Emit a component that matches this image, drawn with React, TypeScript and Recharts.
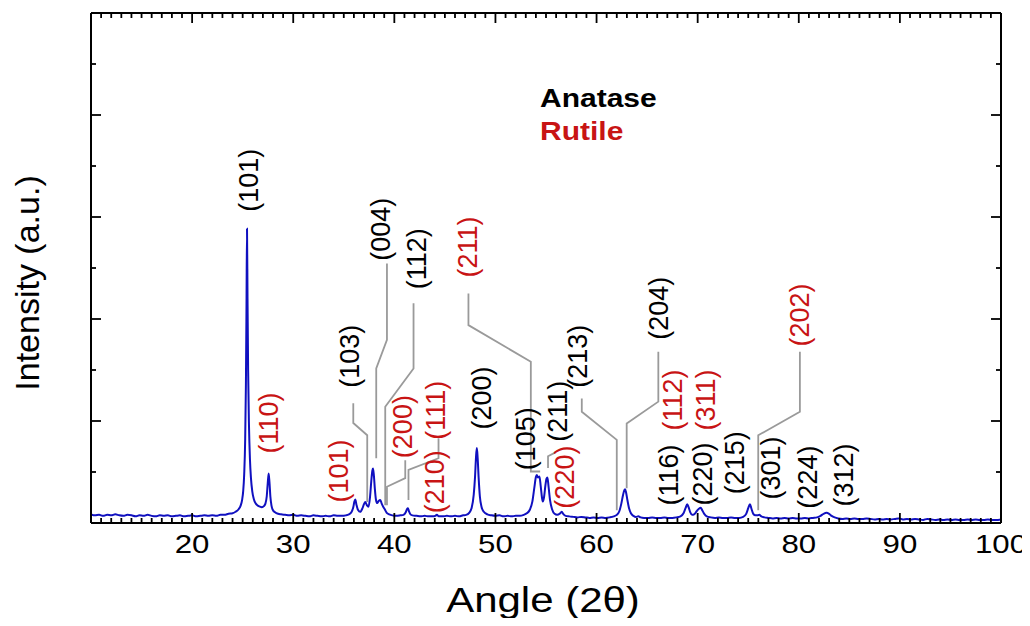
import React from 'react';
import { ComposedChart, Line, Scatter, XAxis, YAxis, Legend } from 'recharts';

const FONT = '"Liberation Sans", Arial, Helvetica, sans-serif';
const BLUE = '#1010c0';
const RED = '#c81414';
const GREY = '#9a9a9a';

// 2θ (deg) vs intensity (axis units 0-10)
const scan: [number, number][] = [
  [10.0, 0.17], [10.4, 0.15], [10.8, 0.16], [11.2, 0.14], [11.6, 0.16], [12.0, 0.15], [12.4, 0.17], [12.8, 0.15],
  [13.2, 0.14], [13.6, 0.16], [14.0, 0.15], [14.4, 0.13], [14.8, 0.15], [15.2, 0.14], [15.6, 0.16], [16.0, 0.14],
  [16.4, 0.13], [16.8, 0.15], [17.2, 0.14], [17.6, 0.15], [18.0, 0.13], [18.4, 0.14], [18.8, 0.15], [19.2, 0.13],
  [19.6, 0.14], [20.0, 0.15], [20.4, 0.13], [20.8, 0.14], [21.2, 0.15], [21.6, 0.14], [22.0, 0.15], [22.4, 0.14],
  [22.8, 0.16], [23.2, 0.16], [23.6, 0.18], [24.0, 0.19], [24.3, 0.22], [24.6, 0.27], [24.8, 0.34], [24.95, 0.46],
  [25.05, 0.62], [25.15, 0.95], [25.25, 1.65], [25.32, 2.7], [25.38, 4.3], [25.43, 5.77], [25.48, 4.4], [25.54, 3.0],
  [25.62, 1.95], [25.72, 1.25], [25.82, 0.88], [25.95, 0.62], [26.1, 0.47], [26.3, 0.38], [26.5, 0.34], [26.7, 0.32],
  [26.9, 0.31], [27.1, 0.33], [27.25, 0.38], [27.38, 0.52], [27.48, 0.78], [27.57, 0.97], [27.65, 0.8], [27.74, 0.52],
  [27.85, 0.34], [28.0, 0.25], [28.2, 0.21], [28.5, 0.18], [28.8, 0.17], [29.2, 0.16], [29.6, 0.15], [30.0, 0.16],
  [30.4, 0.14], [30.8, 0.15], [31.2, 0.14], [31.6, 0.13], [32.0, 0.15], [32.4, 0.14], [32.8, 0.13], [33.2, 0.14],
  [33.6, 0.13], [34.0, 0.15], [34.4, 0.14], [34.8, 0.14], [35.2, 0.15], [35.5, 0.17], [35.75, 0.21], [35.95, 0.32],
  [36.05, 0.42], [36.14, 0.46], [36.25, 0.36], [36.4, 0.26], [36.63, 0.22], [36.85, 0.29], [37.0, 0.37], [37.13, 0.41],
  [37.28, 0.35], [37.45, 0.32], [37.6, 0.52], [37.72, 0.82], [37.82, 1.02], [37.89, 1.07], [37.97, 0.95], [38.07, 0.68],
  [38.18, 0.46], [38.3, 0.39], [38.45, 0.43], [38.61, 0.45], [38.75, 0.38], [38.9, 0.32], [39.05, 0.27], [39.25, 0.2],
  [39.5, 0.17], [39.8, 0.15], [40.2, 0.14], [40.6, 0.15], [40.9, 0.16], [41.1, 0.2], [41.25, 0.27], [41.34, 0.29],
  [41.45, 0.23], [41.6, 0.17], [41.8, 0.15], [42.2, 0.14], [42.6, 0.13], [43.0, 0.14], [43.4, 0.13], [43.8, 0.13],
  [44.05, 0.14], [44.21, 0.16], [44.4, 0.13], [44.8, 0.13], [45.2, 0.14], [45.6, 0.13], [46.0, 0.14], [46.4, 0.13],
  [46.8, 0.15], [47.1, 0.16], [47.4, 0.2], [47.65, 0.3], [47.85, 0.55], [47.98, 0.9], [48.08, 1.3], [48.16, 1.47],
  [48.24, 1.28], [48.34, 0.88], [48.46, 0.52], [48.62, 0.32], [48.85, 0.22], [49.2, 0.17], [49.6, 0.15], [50.0, 0.14],
  [50.4, 0.15], [50.8, 0.13], [51.2, 0.14], [51.6, 0.13], [52.0, 0.14], [52.4, 0.14], [52.8, 0.16], [53.1, 0.19],
  [53.4, 0.26], [53.65, 0.42], [53.85, 0.7], [54.0, 0.9], [54.09, 0.94], [54.2, 0.89], [54.35, 0.91], [54.48, 0.72],
  [54.6, 0.5], [54.68, 0.42], [54.8, 0.5], [54.95, 0.75], [55.05, 0.87], [55.14, 0.89], [55.25, 0.72], [55.4, 0.45],
  [55.6, 0.27], [55.85, 0.18], [56.1, 0.16], [56.35, 0.18], [56.5, 0.21], [56.56, 0.22], [56.7, 0.18], [56.95, 0.14],
  [57.3, 0.13], [57.7, 0.12], [58.1, 0.11], [58.5, 0.12], [58.9, 0.11], [59.3, 0.1], [59.7, 0.11], [60.1, 0.1],
  [60.5, 0.11], [60.9, 0.1], [61.3, 0.11], [61.7, 0.13], [62.0, 0.16], [62.25, 0.23], [62.45, 0.38], [62.62, 0.55],
  [62.74, 0.64], [62.82, 0.66], [62.92, 0.6], [63.05, 0.45], [63.2, 0.3], [63.4, 0.19], [63.65, 0.14], [63.9, 0.12],
  [64.13, 0.13], [64.35, 0.11], [64.7, 0.1], [65.1, 0.1], [65.5, 0.11], [65.9, 0.1], [66.3, 0.1], [66.7, 0.11],
  [67.1, 0.1], [67.5, 0.1], [67.9, 0.11], [68.3, 0.13], [68.6, 0.19], [68.8, 0.29], [68.97, 0.37], [69.1, 0.31],
  [69.25, 0.22], [69.45, 0.16], [69.65, 0.17], [69.9, 0.23], [70.12, 0.28], [70.3, 0.3], [70.45, 0.25], [70.65, 0.18],
  [70.9, 0.13], [71.3, 0.11], [71.7, 0.1], [72.1, 0.11], [72.5, 0.1], [72.9, 0.1], [73.3, 0.11], [73.7, 0.1],
  [74.1, 0.1], [74.5, 0.12], [74.8, 0.18], [75.0, 0.29], [75.17, 0.37], [75.32, 0.28], [75.5, 0.18], [75.72, 0.15],
  [75.9, 0.15], [76.09, 0.16], [76.3, 0.13], [76.6, 0.11], [77.0, 0.1], [77.4, 0.09], [77.8, 0.1], [78.2, 0.09],
  [78.6, 0.1], [79.0, 0.09], [79.4, 0.1], [79.8, 0.09], [80.2, 0.09], [80.6, 0.1], [81.0, 0.09], [81.4, 0.1],
  [81.8, 0.11], [82.15, 0.14], [82.45, 0.18], [82.75, 0.2], [83.0, 0.18], [83.25, 0.14], [83.55, 0.11], [83.9, 0.09],
  [84.3, 0.08], [84.7, 0.09], [85.1, 0.08], [85.5, 0.09], [85.9, 0.08], [86.3, 0.08], [86.7, 0.09], [87.1, 0.08],
  [87.5, 0.07], [87.9, 0.08], [88.3, 0.07], [88.7, 0.08], [89.1, 0.07], [89.5, 0.08], [89.9, 0.09], [90.3, 0.07],
  [90.7, 0.08], [91.1, 0.07], [91.5, 0.08], [91.9, 0.07], [92.3, 0.06], [92.7, 0.08], [93.1, 0.07], [93.5, 0.06],
  [93.9, 0.07], [94.3, 0.06], [94.7, 0.07], [95.1, 0.06], [95.5, 0.07], [95.9, 0.06], [96.3, 0.06], [96.7, 0.07],
  [97.1, 0.06], [97.5, 0.07], [97.9, 0.06], [98.3, 0.06], [98.7, 0.07], [99.1, 0.06], [99.5, 0.06], [100.0, 0.07],
];

const angleLabels = [20, 30, 40, 50, 60, 70, 80, 90, 100];
const angleTicks = Array.from({ length: 91 }, (_, i) => 10 + i);
const intensityTicks = [0, 1, 2, 3, 4, 5, 6, 7, 8, 9, 10];

const phases = [
  { name: 'Anatase', color: '#000' },
  { name: 'Rutile', color: RED },
];

// hkl labels, centre of the rotated text in data units
const peakLabels = [
  { text: '(101)', x: 25.76, y: 6.72, phase: 'Anatase' },
  { text: '(110)', x: 27.74, y: 1.96, phase: 'Rutile' },
  { text: '(101)', x: 34.65, y: 1.02, phase: 'Rutile' },
  { text: '(103)', x: 35.71, y: 3.27, phase: 'Anatase' },
  { text: '(004)', x: 38.8, y: 5.76, phase: 'Anatase' },
  { text: '(112)', x: 42.36, y: 5.18, phase: 'Anatase' },
  { text: '(200)', x: 40.98, y: 1.89, phase: 'Rutile' },
  { text: '(111)', x: 44.24, y: 2.21, phase: 'Rutile' },
  { text: '(210)', x: 44.14, y: 0.81, phase: 'Rutile' },
  { text: '(211)', x: 47.4, y: 5.41, phase: 'Rutile' },
  { text: '(200)', x: 48.78, y: 2.45, phase: 'Anatase' },
  { text: '(105)', x: 53.13, y: 1.65, phase: 'Anatase' },
  { text: '(211)', x: 56.29, y: 2.19, phase: 'Anatase' },
  { text: '(220)', x: 56.98, y: 0.9, phase: 'Rutile' },
  { text: '(213)', x: 58.27, y: 3.27, phase: 'Anatase' },
  { text: '(204)', x: 66.27, y: 4.21, phase: 'Anatase' },
  { text: '(112)', x: 67.65, y: 2.41, phase: 'Rutile' },
  { text: '(311)', x: 70.92, y: 2.41, phase: 'Rutile' },
  { text: '(116)', x: 67.26, y: 0.94, phase: 'Anatase' },
  { text: '(220)', x: 70.62, y: 0.96, phase: 'Anatase' },
  { text: '(215)', x: 73.78, y: 1.18, phase: 'Anatase' },
  { text: '(301)', x: 77.34, y: 1.08, phase: 'Anatase' },
  { text: '(224)', x: 80.99, y: 0.9, phase: 'Anatase' },
  { text: '(312)', x: 84.56, y: 0.94, phase: 'Anatase' },
  { text: '(202)', x: 80.21, y: 4.08, phase: 'Rutile' },
];

// grey leader lines from label to peak
const leaders: [number, number][][] = [
  [[35.94, 2.35], [35.94, 1.96], [37.32, 1.72], [37.32, 0.41]],
  [[39.27, 5.09], [39.27, 3.59], [38.21, 3.03], [38.21, 1.27]],
  [[41.9, 4.31], [41.9, 3.03], [39.1, 2.28], [39.1, 0.35]],
  [[41.08, 1.23], [41.08, 0.88], [39.27, 0.71], [39.27, 0.35]],
  [[44.37, 1.66], [44.37, 1.27], [41.4, 1.04], [41.4, 0.45]],
  [[47.33, 4.5], [47.33, 3.88], [53.5, 3.16], [53.5, 1.01], [54.42, 1.01]],
  [[55.99, 1.39], [55.2, 1.31], [55.2, 1.08]],
  [[58.54, 2.44], [58.54, 2.18], [62.0, 1.63], [62.0, 0.25]],
  [[66.11, 3.36], [66.11, 2.38], [62.98, 1.95], [62.98, 0.68]],
  [[80.11, 3.36], [80.11, 2.18], [75.99, 1.72], [75.99, 0.25]],
];

const scanData = scan.map(([x, y]) => ({ x, y }));
const phaseColor = (p: string) => phases.find((ph) => ph.name === p)?.color ?? '#000';

function BottomTick({ x, y, payload }: any) {
  const v = payload.value;
  const major = v % 10 === 0;
  return (
    <g>
      <line x1={x} y1={y} x2={x} y2={y - (major ? 10 : 5)} stroke="#000" strokeWidth={1.8} />
      {angleLabels.includes(v) && (
        <text transform={`translate(${x},${y + 30}) scale(1.2,1)`} textAnchor="middle" fontSize={26} fontFamily={FONT} fill="#000">
          {v}
        </text>
      )}
    </g>
  );
}

function TopTick({ x, y, payload }: any) {
  const major = payload.value % 10 === 0;
  return <line x1={x} y1={y} x2={x} y2={y + (major ? 10 : 5)} stroke="#000" strokeWidth={1.8} />;
}

function LeftTick({ x, y, payload }: any) {
  const major = payload.value % 2 === 0;
  return <line x1={x} y1={y} x2={x + (major ? 10 : 5)} y2={y} stroke="#000" strokeWidth={1.8} />;
}

function RightTick({ x, y, payload }: any) {
  const major = payload.value % 2 === 0;
  return <line x1={x} y1={y} x2={x - (major ? 10 : 5)} y2={y} stroke="#000" strokeWidth={1.8} />;
}

function PeakText({ cx, cy, payload }: any) {
  const fs = 27;
  const bx = cx + 0.3 * fs;
  return (
    <text
      x={bx}
      y={cy}
      transform={`rotate(-90 ${bx} ${cy})`}
      textAnchor="middle"
      fontSize={fs}
      fontFamily={FONT}
      fill={phaseColor(payload.phase)}
    >
      {payload.text}
    </text>
  );
}

function PhaseLegend() {
  return (
    <div style={{ fontFamily: FONT, fontWeight: 'bold', fontSize: 25, lineHeight: '33px', whiteSpace: 'nowrap' }}>
      {phases.map((p) => (
        <div key={p.name} style={{ color: p.color, transform: 'scaleX(1.2)', transformOrigin: 'left' }}>
          {p.name}
        </div>
      ))}
    </div>
  );
}

export default function App() {
  const frame = { stroke: '#000', strokeWidth: 2 };
  return (
    <div style={{ width: 1022, height: 610, background: '#fff' }}>
      <ComposedChart width={1022} height={610} margin={{ top: 4, right: 28, bottom: 0, left: 0 }}>
        <XAxis
          xAxisId="b"
          dataKey="x"
          type="number"
          domain={[10, 100]}
          allowDataOverflow
          ticks={angleTicks}
          interval={0}
          tickSize={0}
          tickMargin={0}
          tickLine={false}
          axisLine={frame}
          tick={<BottomTick />}
          height={95}
          label={{
            content: ({ viewBox }: any) => (
              <text
                transform={`translate(${viewBox.x + viewBox.width / 2 - 3},${viewBox.y + 89}) scale(1.2,1)`}
                textAnchor="middle"
                fontSize={35}
                fontFamily={FONT}
                fill="#000"
              >
                Angle (2θ)
              </text>
            ),
          }}
        />
        <XAxis
          xAxisId="t"
          orientation="top"
          dataKey="x"
          type="number"
          domain={[10, 100]}
          allowDataOverflow
          ticks={angleTicks}
          interval={0}
          tickSize={0}
          tickMargin={0}
          tickLine={false}
          axisLine={frame}
          tick={<TopTick />}
          height={1}
        />
        <YAxis
          yAxisId="l"
          type="number"
          domain={[0, 10]}
          allowDataOverflow
          ticks={intensityTicks}
          interval={0}
          tickSize={0}
          tickMargin={0}
          tickLine={false}
          axisLine={frame}
          tick={<LeftTick />}
          width={83}
          label={{
            content: ({ viewBox }: any) => {
              const lx = viewBox.x + 31;
              const ly = viewBox.y + viewBox.height / 2 + 15;
              return (
                <text x={lx} y={ly} transform={`rotate(-90 ${lx} ${ly})`} textAnchor="middle" fontSize={34} fontFamily={FONT} fill="#000">
                  Intensity (a.u.)
                </text>
              );
            },
          }}
        />
        <YAxis
          yAxisId="r"
          orientation="right"
          type="number"
          domain={[0, 10]}
          allowDataOverflow
          ticks={intensityTicks}
          interval={0}
          tickSize={0}
          tickMargin={0}
          tickLine={false}
          axisLine={frame}
          tick={<RightTick />}
          width={1}
        />
        {leaders.map((pts, i) => (
          <Line
            key={`lead-${i}`}
            xAxisId="b"
            yAxisId="l"
            data={pts.map(([x, y]) => ({ x, y }))}
            dataKey="y"
            type="linear"
            stroke={GREY}
            strokeWidth={1.8}
            dot={false}
            activeDot={false}
            isAnimationActive={false}
          />
        ))}
        <Line
          xAxisId="b"
          yAxisId="l"
          data={scanData}
          dataKey="y"
          type="monotone"
          stroke={BLUE}
          strokeWidth={2}
          dot={false}
          activeDot={false}
          isAnimationActive={false}
        />
        <Scatter
          xAxisId="b"
          yAxisId="l"
          data={peakLabels}
          dataKey="y"
          isAnimationActive={false}
          shape={(p: any) => <PeakText {...p} />}
        />
        <Legend
          layout="vertical"
          align="center"
          verticalAlign="middle"
          wrapperStyle={{ position: 'absolute', left: 532, top: 74, width: 'auto', height: 'auto' }}
          content={() => <PhaseLegend />}
        />
      </ComposedChart>
    </div>
  );
}
